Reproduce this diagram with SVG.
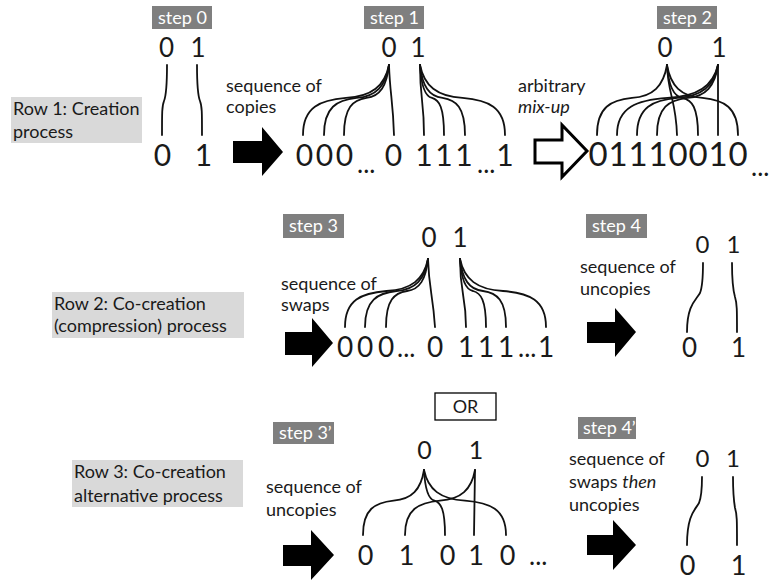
<svg xmlns="http://www.w3.org/2000/svg" width="770" height="582" viewBox="0 0 770 582">
<style>
text{font-family:Lato,"Open Sans","Liberation Sans",sans-serif;fill:#1a1a1a}
.t{font-size:18px}
.s{font-size:18px;fill:#fff}
.d{text-anchor:middle}
.sb{fill:#7f7f7f}
.rb{fill:#d9d9d9}
.c path{fill:none;stroke:#111;stroke-width:1.8;stroke-linecap:round}
.ar{fill:#000}
.ah{fill:#fff;stroke:#000;stroke-width:3;stroke-linejoin:miter}
</style>
<rect width="770" height="582" fill="#fff"/>
<g id="row1-label"><rect class="rb" x="11" y="97" width="131" height="46"/><text class="t" x="13" y="115">Row 1: Creation</text><text class="t" x="13" y="138">process</text></g>
<g id="row2-label"><rect class="rb" x="52" y="292" width="192" height="46"/><text class="t" x="54" y="310">Row 2: Co-creation</text><text class="t" x="54" y="332">(compression) process</text></g>
<g id="row3-label"><rect class="rb" x="72" y="460" width="171" height="47"/><text class="t" x="74" y="478">Row 3: Co-creation</text><text class="t" x="74" y="502">alternative process</text></g>
<g id="step0"><rect class="sb" x="152" y="6" width="60" height="23"/><text class="s" x="158" y="24">step 0</text>
<text class="d" font-size="26" x="166.5 182 198" y="57">0 1</text><text class="d" font-size="30" x="162.5 183 203.5" y="166">0 1</text></g>
<g id="step1"><rect class="sb" x="364" y="6" width="60" height="23"/><text class="s" x="370" y="24">step 1</text>
<text class="d" font-size="26" x="389 404 418" y="57">0 1</text>
<text class="t" x="226" y="92">sequence of</text><text class="t" x="226" y="113">copies</text>
<text class="d" font-size="30" x="304.5 324.5 344.5" y="166">000</text><text font-size="26" x="357" y="173">...</text><text class="d" font-size="30" x="393.5" y="166">0</text>
<text class="d" font-size="30" x="424 444 464" y="166">111</text><text font-size="26" x="477" y="173">...</text><text class="d" font-size="30" x="505" y="166">1</text></g>
<g id="step2"><rect class="sb" x="657" y="6" width="60" height="23"/><text class="s" x="663" y="24">step 2</text>
<text class="d" font-size="26" x="665 692 719" y="57">0 1</text>
<text class="t" x="518" y="92">arbitrary</text><text class="t" x="518" y="113" font-style="italic">mix-up</text>
<text class="d" font-size="33" x="598 618 638 658 678 698 718 738" y="166">01110010</text><text font-size="26" x="751" y="176">...</text></g>
<g id="step3"><rect class="sb" x="283" y="214" width="61" height="24"/><text class="s" x="289" y="232">step 3</text>
<text class="d" font-size="26" x="429 444 460" y="247">0 1</text>
<text class="t" x="281" y="290">sequence of</text><text class="t" x="281" y="311">swaps</text>
<text class="d" font-size="28" x="345 365 386" y="357">000</text><text font-size="26" x="397" y="357">...</text><text class="d" font-size="28" x="435" y="357">0</text>
<text class="d" font-size="28" x="466 486 506" y="357">111</text><text font-size="26" x="518" y="357">...</text><text class="d" font-size="28" x="546" y="357">1</text></g>
<g id="step4"><rect class="sb" x="586" y="214" width="61" height="24"/><text class="s" x="592" y="232">step 4</text>
<text class="t" x="580" y="273">sequence of</text><text class="t" x="580" y="295">uncopies</text>
<text class="d" font-size="24" x="702.5 718 733.5" y="253">0 1</text><text class="d" font-size="26" x="689.5 714 738.5" y="357">0 1</text></g>
<g id="or"><rect x="435" y="393" width="61" height="27" fill="#fff" stroke="#000" stroke-width="1.3"/><text class="t d" x="465.5" y="413">OR</text></g>
<g id="step3p"><rect class="sb" x="273" y="422" width="61" height="22"/><text class="s" x="279" y="439">step 3’</text>
<text class="d" font-size="25" x="424.5 450 476" y="459">0 1</text>
<text class="t" x="266" y="493">sequence of</text><text class="t" x="266" y="516">uncopies</text>
<text class="d" font-size="27" x="365.5 386 406.5 427 447.5 462 476 492 507.5" y="565">0 1 0 1 0</text><text font-size="26" x="529" y="565">...</text></g>
<g id="step4p"><rect class="sb" x="578" y="417" width="58" height="22"/><text class="s" x="583" y="434">step 4’</text>
<text class="t" x="569" y="465">sequence of</text><text class="t" x="569" y="488">swaps <tspan font-style="italic">then</tspan></text><text class="t" x="569" y="511">uncopies</text>
<text class="d" font-size="24" x="702.5 718 733" y="467">0 1</text><text class="d" font-size="27" x="687.5 713 738.5" y="575">0 1</text></g>
<g id="connectors" class="c">
<path d="M167,65 C167,88 166,96 164,101 C162,106 162,112 162,135"/>
<path d="M197,65 C197,88 198,96 200,101 C202,106 202,112 202,135"/>
<path d="M389,65 C384.7,86 371.8,96.5 346,97.9 C320.2,100 303,107 303,135"/>
<path d="M389,65 C385.75,86 376,96.5 356.5,97.9 C337,100 324,107 324,135"/>
<path d="M389,65 C386.75,86 380,96.5 366.5,97.9 C353,100 344,107 344,135"/>
<path d="M389,65 C390,95 393,100 394,135"/>
<path d="M420,65 C420,100 424,100 424,135"/>
<path d="M420,65 C421.2,86 424.8,96.5 432,97.9 C439.2,100 444,107 444,135"/>
<path d="M420,65 C422.25,86 429,96.5 442.5,97.9 C456,100 465,107 465,135"/>
<path d="M420,65 C424.25,86 437,96.5 462.5,97.9 C488,100 505,107 505,135"/>
<path d="M667,65 C663.5,86 653,96.5 632,97.9 C611,100 597,107 597,135"/>
<path d="M667,65 C668,95 676,100 677,135"/>
<path d="M667,65 C668.55,86 673.2,96.5 682.5,97.9 C691.8,100 698,107 698,135"/>
<path d="M667,65 C670.55,86 681.2,96.5 702.5,97.9 C723.8,100 738,107 738,135"/>
<path d="M718,65 C712.95,86 697.8,96.5 667.5,97.9 C637.2,100 617,107 617,135"/>
<path d="M718,65 C713.95,86 701.8,96.5 677.5,97.9 C653.2,100 637,107 637,135"/>
<path d="M718,65 C714.95,86 705.8,96.5 687.5,97.9 C669.2,100 657,107 657,135"/>
<path d="M718,65 L718,135"/>
<path d="M428,259 C423.85,279.4 411.4,289.6 386.5,291 C361.6,293 345,299.8 345,327"/>
<path d="M428,259 C424.85,279.4 415.4,289.6 396.5,291 C377.6,293 365,299.8 365,327"/>
<path d="M428,259 C425.9,279.4 419.6,289.6 407,291 C394.4,293 386,299.8 386,327"/>
<path d="M428,259 C429,290 433,295 435,327"/>
<path d="M460,259 C460,295 466,295 466,327"/>
<path d="M460,259 C461.3,279.4 465.2,289.6 473,291 C480.8,293 486,299.8 486,327"/>
<path d="M460,259 C462.3,279.4 469.2,289.6 483,291 C496.8,293 506,299.8 506,327"/>
<path d="M460,259 C464.3,279.4 477.2,289.6 503,291 C528.8,293 546,299.8 546,327"/>
<path d="M703,263 C703,280 702,288 700,293 C696,300 687,305 687,332"/>
<path d="M732,263 C732,280 733,290 735,297 C737,303 737,310 737,332"/>
<path d="M424,470 C420.95,489.5 411.8,499.25 393.5,500.55 C375.2,502.5 363,509 363,535"/>
<path d="M424,470 C425.05,489.5 428.2,499.25 434.5,500.55 C440.8,502.5 445,509 445,535"/>
<path d="M424,470 C428.1,489.5 440.4,499.25 465,500.55 C489.6,502.5 506,509 506,535"/>
<path d="M475,470 C471.5,489.5 461,499.25 440,500.55 C419,502.5 405,509 405,535"/>
<path d="M475,470 L474,535"/>
<path d="M702,477 C702,490 701,498 699,503 C695,510 687,515 687,545"/>
<path d="M733,477 C733,492 734,502 735,508 C737,514 737,520 737,545"/>
<polygon class="ar" points="233,141 262,141 262,127 283,152 262,176 262,163 233,163"/>
<polygon class="ah" points="535,140 562,140 562,125 587,151 562,177 562,163 535,163"/>
<polygon class="ar" points="285,332 312,332 312,318 333,343 312,367 312,355 285,355"/>
<polygon class="ar" points="587,322 615,322 615,308 636,332 615,357 615,343 587,343"/>
<polygon class="ar" points="283,545 311,545 311,530 334,555 311,580 311,566 283,566"/>
<polygon class="ar" points="587,535 613,535 613,520 636,545 613,570 613,555 587,555"/>
</g>
</svg>
